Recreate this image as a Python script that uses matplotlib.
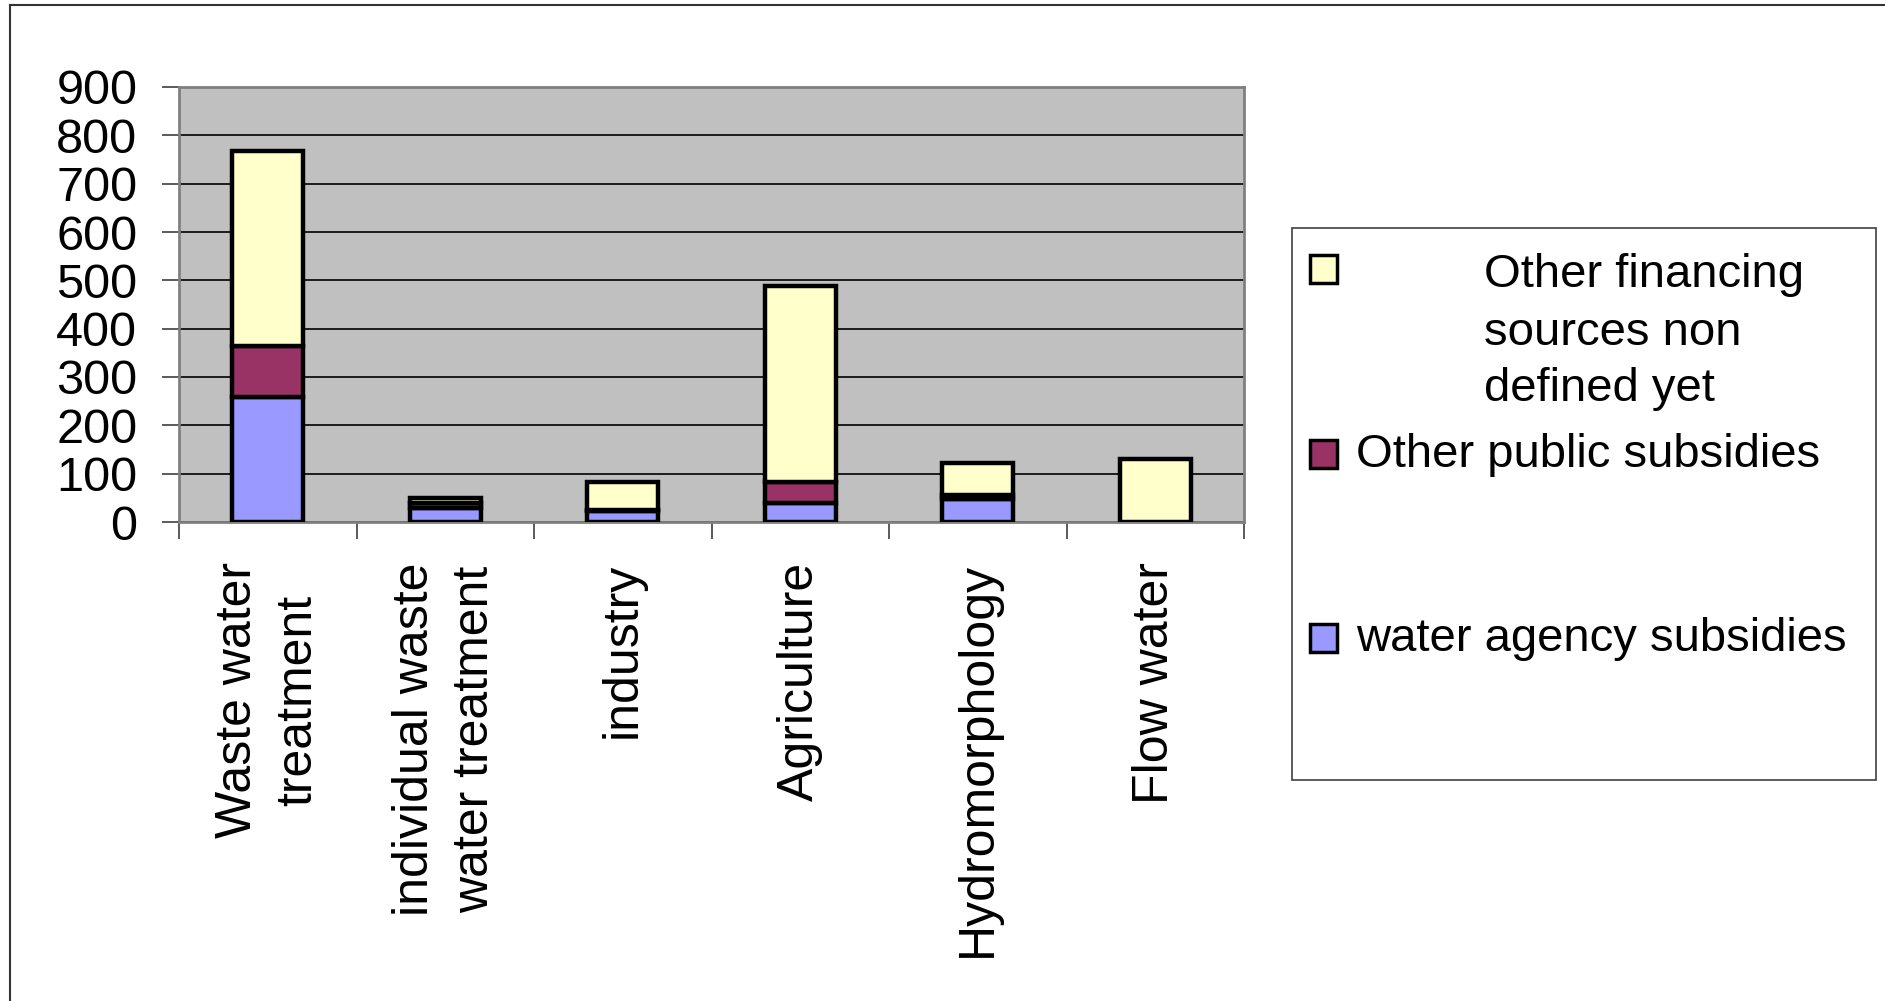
import matplotlib
matplotlib.use("Agg")
import matplotlib.pyplot as plt
import numpy as np
from matplotlib.patches import Rectangle
from matplotlib.lines import Line2D

plt.rcParams['font.family'] = ['Liberation Sans', 'DejaVu Sans']

categorias = ["Waste water\ntreatment", "individual waste\nwater treatment", "industry",
              "Agriculture", "Hydromorphology", "Flow water"]
agencia = [258, 29, 22, 40, 48, 0]       # water agency subsidies
publico = [106, 11, 3, 42, 7, 0]         # Other public subsidies
outros = [404, 10, 58, 406, 67, 130]     # Other financing sources non defined yet
yticks = [0, 100, 200, 300, 400, 500, 600, 700, 800, 900]

cor_azul = '#9999FF'
cor_roxo = '#993366'
cor_amarelo = '#FFFFCC'

W, H = 1885, 1001
fig = plt.figure(figsize=(W / 100, H / 100), dpi=100)

def fx(px):
    return px / W

def fy(py):
    return 1 - py / H

ax = fig.add_axes([fx(179), fy(522), fx(1244 - 179), (522 - 87) / H])
ax.set_facecolor('#C0C0C0')

x = np.arange(len(categorias))
largura = 0.4
base2 = np.array(agencia)
base3 = base2 + np.array(publico)
ax.bar(x, agencia, largura, color=cor_azul, edgecolor='black', linewidth=3.2, zorder=3)
ax.bar(x, publico, largura, bottom=base2, color=cor_roxo, edgecolor='black', linewidth=3.2, zorder=3)
ax.bar(x, outros, largura, bottom=base3, color=cor_amarelo, edgecolor='black', linewidth=3.2, zorder=3)

ax.set_xlim(-0.5, len(categorias) - 0.5)
ax.set_ylim(0, 900)
ax.set_yticks(yticks)
ax.set_yticklabels([str(v) for v in yticks], fontsize=35)
ax.yaxis.grid(True, color='black', linewidth=1.2, zorder=1)
ax.set_axisbelow(True)

ax.set_xticks(x)
ax.set_xticklabels(categorias, rotation=90, fontsize=36, ha='center', va='top',
                   linespacing=1.4)
ax.set_xticks(np.arange(-0.5, len(categorias)), minor=True)
ax.tick_params(axis='x', which='major', length=0, pad=29)
ax.tick_params(axis='x', which='minor', length=12, width=1.2, color='#404040')
ax.tick_params(axis='y', length=12, width=1.2, color='#404040', pad=18)

for s in ax.spines.values():
    s.set_color('#808080')
    s.set_linewidth(2)

# legenda feita a mao
fig.patches.append(Rectangle((fx(1292), fy(780)), fx(1876 - 1292), (780 - 228) / H,
                             transform=fig.transFigure, facecolor='white',
                             edgecolor='#404040', linewidth=1.2))
itens = [(cor_amarelo, 269), (cor_roxo, 454), (cor_azul, 638)]
for cor, cy in itens:
    fig.patches.append(Rectangle((fx(1310), fy(cy + 14)), fx(27), 28 / H,
                                 transform=fig.transFigure, facecolor=cor,
                                 edgecolor='black', linewidth=2.5))
for txt, yy in [("Other financing", 287), ("sources non", 345), ("defined yet", 401)]:
    fig.text(fx(1484), fy(yy), txt, fontsize=34, va='baseline', ha='left')
fig.text(fx(1356), fy(467), "Other public subsidies", fontsize=34, va='baseline', ha='left')
fig.text(fx(1356), fy(651), "water agency subsidies", fontsize=34, va='baseline', ha='left')

# moldura externa
fig.lines.append(Line2D([fx(10), 1], [fy(5), fy(5)], transform=fig.transFigure,
                        color='#333333', linewidth=1.5))
fig.lines.append(Line2D([fx(10), fx(10)], [fy(5), 0], transform=fig.transFigure,
                        color='#333333', linewidth=1.5))

fig.savefig('out.png', dpi=100)
